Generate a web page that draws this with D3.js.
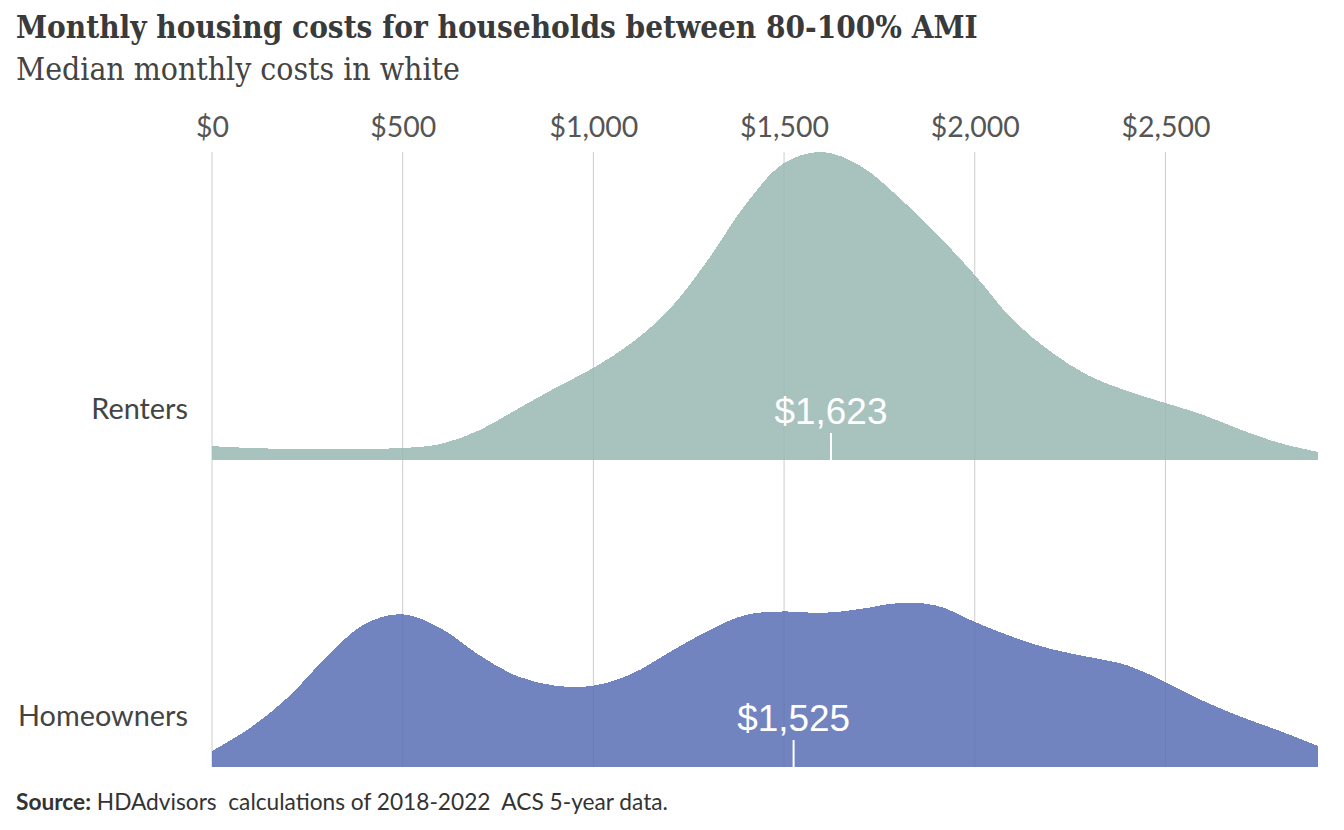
<!DOCTYPE html>
<html>
<head>
<meta charset="utf-8">
<script src="https://cdn.jsdelivr.net/npm/d3@7/dist/d3.min.js"></script>
<style>
  html, body { margin: 0; padding: 0; background: #fff; }
  svg { display: block; }
</style>
</head>
<body>
<svg id="chart" width="1344" height="830"></svg>
<script>
// ---- data ----
const groups = ["Renters", "Homeowners"];
const costs = [0,100,200,300,400,500,600,700,800,900,1000,1100,1200,1300,1400,1500,
               1600,1700,1800,1900,2000,2100,2200,2300,2400,2500,2600,2700,2800,2900];
// relative density (renters peak = 100)
const renters = [4.5,3.9,3.6,3.6,3.6,3.9,5.2,9.6,16.5,23.4,29.9,38.0,49.0,64.9,83.1,96.4,
                 100,95.5,85.4,73.4,60.1,45.5,35.1,27.3,22.4,18.5,14.6,9.7,5.5,2.6];
const homeowners = [5.2,12.7,22.7,35.7,46.4,49.6,45.0,36.4,29.5,26.4,26.4,30.2,37.3,44.2,49.4,50.5,
                    50.0,51.3,53.2,52.4,47.1,42.2,38.3,35.7,33.0,27.6,21.4,16.2,11.7,6.8];
const medians = [1623, 1525];
const tickValues = [0, 500, 1000, 1500, 2000, 2500];
const colors = ["#99b7b3", "#596fb4"];

const title = "Monthly housing costs for households between 80-100% AMI";
const subtitle = "Median monthly costs in white";
const sourceBold = "Source:";
const sourceText = " HDAdvisors  calculations of 2018-2022  ACS 5-year data.";

// ---- layout ----
const svg = d3.select("#chart");
const x = d3.scaleLinear().domain([0, 2900]).range([212, 1318]);
const base = d3.scalePoint().domain(groups).range([460, 767]);
const h = d3.scaleLinear().domain([0, 100]).range([0, 308]);

function fit(sel, target) {
  const node = sel.node();
  const fs = parseFloat(sel.attr("font-size"));
  const w = node.getComputedTextLength();
  const nfs = fs * target / w;
  sel.attr("font-size", nfs.toFixed(2));
  return nfs;
}

// title & subtitle
const t = svg.append("text").attr("x", 16).attr("y", 38)
  .attr("font-family", "'DejaVu Serif Condensed', 'DejaVu Serif', serif")
  .attr("font-weight", "bold").attr("font-size", 28).attr("fill", "#383a3c").text(title);
fit(t, 962);
const st = svg.append("text").attr("x", 16).attr("y", 80)
  .attr("font-family", "'DejaVu Serif Condensed', 'DejaVu Serif', serif")
  .attr("font-size", 26).attr("fill", "#444").text(subtitle);
fit(st, 444);

// gridlines
svg.append("g").selectAll("line").data(tickValues).join("line")
  .attr("x1", d => x(d)).attr("x2", d => x(d))
  .attr("y1", 152).attr("y2", 767)
  .attr("stroke", "#cccccc").attr("stroke-width", 1);

// axis labels
const axis = d3.axisTop(x).tickValues(tickValues).tickSize(0)
  .tickFormat(d => "$" + d3.format(",")(d));
const ag = svg.append("g").attr("transform", "translate(0,140)").call(axis);
ag.select(".domain").remove();
ag.selectAll("text").attr("font-family", "Lato, sans-serif").attr("font-size", 26)
  .attr("fill", "#555").attr("dy", 0);
const t1000 = ag.selectAll("text").filter(d => d === 1000);
const tfs = fit(t1000, 89);
ag.selectAll("text").attr("font-size", tfs.toFixed(2));

// areas
const series = [renters, homeowners];
let labelFs = null, medFs = null;
const labels = [];
groups.forEach((g, i) => {
  const b = base(g);
  const pts = costs.map((c, j) => [c, series[i][j]]);
  const area = d3.area().x(d => x(d[0])).y0(b).y1(d => b - h(d[1]))
    .curve(d3.curveCatmullRom.alpha(0.5));
  svg.append("path").datum(pts).attr("d", area)
    .attr("fill", colors[i]).attr("fill-opacity", 0.85)
    .attr("shape-rendering", "crispEdges");

  // group label
  const gl = svg.append("text").attr("x", 188).attr("y", b - 41).attr("text-anchor", "end")
    .attr("font-family", "Lato, sans-serif").attr("font-size", 26).attr("fill", "#444")
    .text(g);
  labels.push(gl);
  if (i === 1) labelFs = fit(gl, 170);

  // median
  const mx = x(medians[i]);
  svg.append("line").attr("x1", mx).attr("x2", mx).attr("y1", b - 27).attr("y2", b)
    .attr("stroke", "#fff").attr("stroke-width", 2);
  const mt = svg.append("text").attr("x", mx).attr("y", b - 36).attr("text-anchor", "middle")
    .attr("font-family", "'Liberation Sans', Arial, sans-serif").attr("font-size", 33)
    .attr("fill", "#fff").text("$" + d3.format(",")(medians[i]));
  if (i === 0) medFs = fit(mt, 113); else mt.attr("font-size", medFs.toFixed(2));
});
labels.forEach(l => l.attr("font-size", labelFs.toFixed(2)));

// source
const src = svg.append("text").attr("x", 16).attr("y", 810)
  .attr("font-family", "Lato, sans-serif").attr("font-size", 19).attr("fill", "#333")
  .attr("xml:space", "preserve").style("white-space", "pre");
src.append("tspan").attr("font-weight", "bold").text(sourceBold);
src.append("tspan").text(sourceText);
fit(src, 652);
</script>
</body>
</html>
